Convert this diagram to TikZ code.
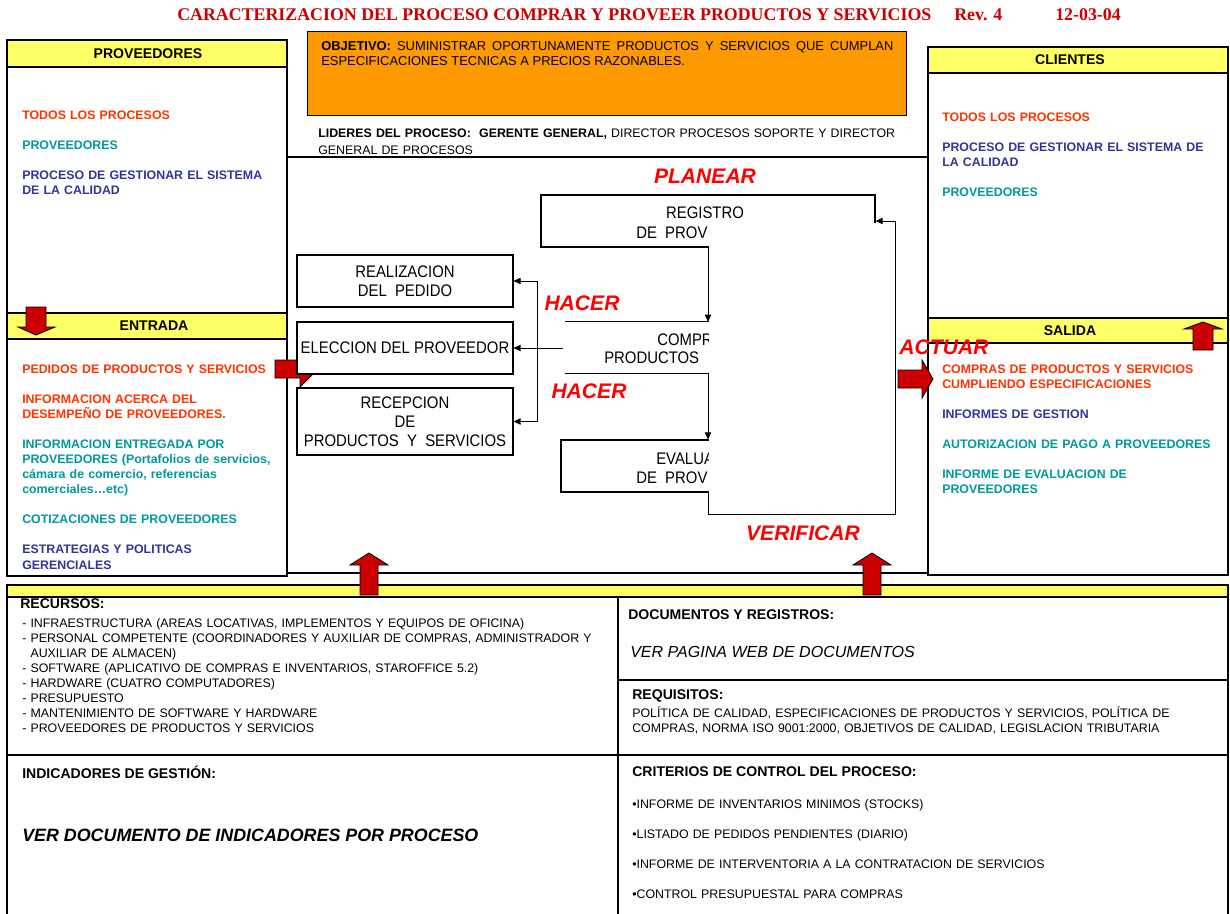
\documentclass[tikz,border=0pt]{standalone}
\usepackage{fontspec}
\setmainfont{Liberation Sans}
\newfontfamily\fuentetitulo{Liberation Serif}
\newfontfamily\fuentecaja[FakeStretch=0.89]{Liberation Sans}
\usetikzlibrary{arrows.meta}

\definecolor{amarillo}{HTML}{FFFF66}
\definecolor{naranja}{HTML}{FF9900}
\definecolor{rojoitem}{HTML}{FF3300}
\definecolor{verdeitem}{HTML}{009999}
\definecolor{azulitem}{HTML}{333399}
\definecolor{rojoflecha}{HTML}{CC0000}
\definecolor{rojotitulo}{HTML}{CC0000}
\definecolor{rojofase}{HTML}{FF0000}

\newcommand{\saltoitem}{\\[10.7pt]}

\tikzset{
  marco/.style={draw=black, line width=1.5pt},
  cabecera/.style={marco, fill=amarillo},
  cabtitulo/.style={anchor=west, inner sep=0pt, text=rojotitulo,
    font=\fuentetitulo\bfseries\fontsize{12.7}{15}\selectfont},
  titcab/.style={inner sep=0pt, font=\fontsize{10}{12}\selectfont\bfseries},
  items/.style={anchor=base west, inner sep=0pt, text width=7cm, align=left,
    font=\fontsize{8.8}{10.7}\selectfont\bfseries},
  lista/.style={anchor=base west, inner sep=0pt, text width=15cm, align=left,
    font=\fontsize{8.8}{10.7}\selectfont},
  seccion/.style={anchor=west, inner sep=0pt, font=\fontsize{10}{12}\selectfont\bfseries},
  caja/.style={draw=black, line width=0.8pt, fill=white, inner sep=0pt, align=center,
    minimum width=5.4cm, minimum height=1.3cm, font=\fuentecaja\fontsize{11.9}{13.5}\selectfont},
  trozo/.style={inner sep=0pt, font=\fuentecaja\fontsize{11.9}{13.5}\selectfont},
  fase/.style={inner sep=0pt, text=rojofase, font=\fontsize{15}{18}\selectfont\bfseries\itshape},
  conector/.style={line width=0.6pt, -{Triangle[length=5pt,width=4.5pt]}},
  flecharoja/.style={draw=black, line width=0.6pt, fill=rojoflecha},
}

\begin{document}
\begin{tikzpicture}[x=0.025cm, y=-0.025cm]
  \useasboundingbox (0,0) rectangle (1230,914);

  % titulo
  \node[cabtitulo] (titulo) at (177,15) {CARACTERIZACION DEL PROCESO COMPRAR Y PROVEER PRODUCTOS Y SERVICIOS};
  \node[cabtitulo] (revision) at (954,15) {Rev. 4};
  \node[cabtitulo] (fecha) at (1055,15) {12-03-04};

  % proveedores y entrada
  \draw[cabecera] (7,40) rectangle (287,67);
  \draw[marco] (7,67) rectangle (287,313);
  \draw[cabecera] (7,313) rectangle (287,339);
  \draw[marco] (7,339) rectangle (287,576);
  \node[titcab] (proveedores) at (148,53.5) {PROVEEDORES};
  \node[titcab] (entrada) at (154,326) {ENTRADA};
  \node[items] (listaprov) at (22,119.4) {\color{rojoitem}TODOS LOS PROCESOS\saltoitem
    \color{verdeitem}PROVEEDORES\saltoitem
    \color{azulitem}PROCESO DE GESTIONAR EL SISTEMA\\DE LA CALIDAD};
  \node[items] (listaentrada) at (22,373.4) {\color{rojoitem}PEDIDOS DE PRODUCTOS Y SERVICIOS\saltoitem
    INFORMACION ACERCA DEL\\DESEMPEÑO DE PROVEEDORES.\saltoitem
    \color{verdeitem}INFORMACION ENTREGADA POR\\PROVEEDORES (Portafolios de servicios,\\cámara de comercio, referencias\\comerciales…etc)\saltoitem
    COTIZACIONES DE PROVEEDORES\saltoitem
    \color{azulitem}ESTRATEGIAS Y POLITICAS\\GERENCIALES};

  % clientes y salida
  \draw[cabecera] (928,47) rectangle (1228,73);
  \draw[marco] (928,73) rectangle (1228,318);
  \draw[cabecera] (928,318) rectangle (1228,343);
  \draw[marco] (928,343) rectangle (1228,575);
  \node[titcab] (clientes) at (1070,60) {CLIENTES};
  \node[titcab] (salida) at (1070,331) {SALIDA};
  \node[items] (listaclientes) at (942,121.4) {\color{rojoitem}TODOS LOS PROCESOS\saltoitem
    \color{azulitem}PROCESO DE GESTIONAR EL SISTEMA DE\\LA CALIDAD\saltoitem
    \color{verdeitem}PROVEEDORES};
  \node[items] (listasalida) at (942,373.4) {\color{rojoitem}COMPRAS DE PRODUCTOS Y SERVICIOS\\CUMPLIENDO ESPECIFICACIONES\saltoitem
    \color{azulitem}INFORMES DE GESTION\saltoitem
    \color{verdeitem}AUTORIZACION DE PAGO A PROVEEDORES\saltoitem
    INFORME DE EVALUACION DE\\PROVEEDORES};

  % objetivo y lideres
  \draw[fill=naranja, line width=0.6pt] (307,31) rectangle (906,115);
  \node[anchor=base west, inner sep=0pt, text width=14.3cm, align=justify,
    font=\fontsize{9.2}{10.7}\selectfont] (objetivo) at (321,50.6)
    {\textbf{OBJETIVO:} SUMINISTRAR OPORTUNAMENTE PRODUCTOS Y SERVICIOS QUE CUMPLAN\linebreak
     ESPECIFICACIONES TECNICAS A PRECIOS RAZONABLES.};
  \node[lista, font=\fontsize{8.8}{12.1}\selectfont] (lideres) at (318,137.4)
    {\textbf{LIDERES DEL PROCESO:\ \ GERENTE GENERAL,} DIRECTOR PROCESOS SOPORTE Y DIRECTOR\\GENERAL DE PROCESOS};

  % proceso
  \draw[marco] (287,157) -- (928,157);
  \draw[line width=0.8pt] (287,573) -- (928,573);

  \draw[flecharoja] (275,360) -- (300,360) -- (300,352) -- (318,369) -- (300,387) -- (300,378) -- (275,378) -- cycle;

  \node[caja] (realizacion) at (405,281) {REALIZACION\\DEL\ \ PEDIDO};
  \node[caja] (eleccion) at (405,348) {ELECCION DEL PROVEEDOR};
  \node[caja, minimum height=1.675cm] (recepcion) at (405,421.5) {RECEPCION\\DE\\PRODUCTOS\ \ Y\ \ SERVICIOS};

  \node[caja, minimum width=8.35cm] (registro) at (708,221) {};
  \node[minimum width=7.15cm, minimum height=1.275cm, inner sep=0pt] (compras) at (708,347.5) {};
  \draw[line width=0.8pt] (compras.north west) -- (compras.north east);
  \draw[line width=0.8pt] (compras.south west) -- (compras.south east);
  \node[caja, minimum width=7.35cm] (evaluacion) at (708,466) {};

  \node[trozo, anchor=base] (registro1) at (705,218) {REGISTRO};
  \node[trozo, anchor=base west] (registro2) at (636,238) {DE\ \ PROV};
  \node[trozo, anchor=base west] (compras1) at (657,345) {COMPR};
  \node[trozo, anchor=base west] (compras2) at (604,363) {PRODUCTOS};
  \node[trozo, anchor=base west] (evaluacion1) at (656,464) {EVALUA};
  \node[trozo, anchor=base west] (evaluacion2) at (636,483) {DE\ \ PROV};

  \fill[white] (709,223) rectangle (894,513);

  \coordinate (retorno) at (895,514);
  \coordinate (desdecompras) at (563,348);
  \coordinate (rama) at (537,348);
  \draw[conector] (registro.south) -- (compras.north);
  \draw[conector] (compras.south) -- (evaluacion.north);
  \draw[conector] (evaluacion.south) |- (retorno) |- (registro.east);
  \draw[conector] (desdecompras) -- (eleccion.east);
  \draw[conector] (rama) |- (realizacion.east);
  \draw[conector] (rama) |- (recepcion.east);

  % recursos, documentos, indicadores
  \draw[cabecera] (7,585) rectangle (1228,597);
  \draw[marco] (7,597) rectangle (618,755);
  \draw[marco] (618,597) rectangle (1228,680);
  \draw[marco] (618,680) rectangle (1228,755);
  \draw[marco] (7,755) rectangle (618,918);
  \draw[marco] (618,755) rectangle (1228,918);

  \node[seccion] (recursos) at (20,604) {RECURSOS:};
  \node[lista] (listarecursos) at (22,627.4) {- INFRAESTRUCTURA (AREAS LOCATIVAS, IMPLEMENTOS Y EQUIPOS DE OFICINA)\\
    - PERSONAL COMPETENTE (COORDINADORES Y AUXILIAR DE COMPRAS, ADMINISTRADOR Y\\
    \phantom{- }AUXILIAR DE ALMACEN)\\
    - SOFTWARE (APLICATIVO DE COMPRAS E INVENTARIOS, STAROFFICE 5.2)\\
    - HARDWARE (CUATRO COMPUTADORES)\\
    - PRESUPUESTO\\
    - MANTENIMIENTO DE SOFTWARE Y HARDWARE\\
    - PROVEEDORES DE PRODUCTOS Y SERVICIOS};

  \node[seccion] (documentos) at (628,615) {DOCUMENTOS Y REGISTROS:};
  \node[anchor=west, inner sep=0pt, font=\fontsize{11.4}{13}\selectfont\itshape] (paginaweb) at (630,652) {VER PAGINA WEB DE DOCUMENTOS};
  \node[seccion] (requisitos) at (632,696) {REQUISITOS:};
  \node[lista] (listarequisitos) at (632,717.4) {POLÍTICA DE CALIDAD, ESPECIFICACIONES DE PRODUCTOS Y SERVICIOS, POLÍTICA DE\\
    COMPRAS, NORMA ISO 9001:2000, OBJETIVOS DE CALIDAD, LEGISLACION TRIBUTARIA};

  \node[seccion] (indicadores) at (22,772) {INDICADORES DE GESTIÓN:};
  \node[anchor=west, inner sep=0pt, font=\fontsize{12.7}{15}\selectfont\bfseries\itshape] (verdocumento) at (22,835) {VER DOCUMENTO DE INDICADORES POR PROCESO};
  \node[seccion] (criterios) at (632,772) {CRITERIOS DE CONTROL DEL PROCESO:};
  \node[lista] (listacriterios) at (632,808.4) {•INFORME DE INVENTARIOS MINIMOS (STOCKS)\saltoitem
    •LISTADO DE PEDIDOS PENDIENTES (DIARIO)\saltoitem
    •INFORME DE INTERVENTORIA A LA CONTRATACION DE SERVICIOS\saltoitem
    •CONTROL PRESUPUESTAL PARA COMPRAS};

  % flechas rojas
  \draw[flecharoja] (26,307) -- (46,307) -- (46,327) -- (55,327) -- (36,335) -- (18,327) -- (26,327) -- cycle;
  \draw[flecharoja] (1193,350) -- (1193,329) -- (1184,329) -- (1203,322) -- (1222,329) -- (1213,329) -- (1213,350) -- cycle;
  \draw[flecharoja] (898,370) -- (922,370) -- (922,360) -- (933,379) -- (922,398) -- (922,388) -- (898,388) -- cycle;
  \foreach \cx in {369,872}
    \draw[flecharoja] (\cx-9,595) -- (\cx-9,565) -- (\cx-19,565) -- (\cx,553) -- (\cx+19,565) -- (\cx+9,565) -- (\cx+9,595) -- cycle;

  % ciclo
  \node[fase] (planear) at (705,176) {PLANEAR};
  \node[fase] (hacer1) at (582,303) {HACER};
  \node[fase] (hacer2) at (589,391) {HACER};
  \node[fase] (actuar) at (944,347) {ACTUAR};
  \node[fase] (verificar) at (803,533) {VERIFICAR};
\end{tikzpicture}
\end{document}
